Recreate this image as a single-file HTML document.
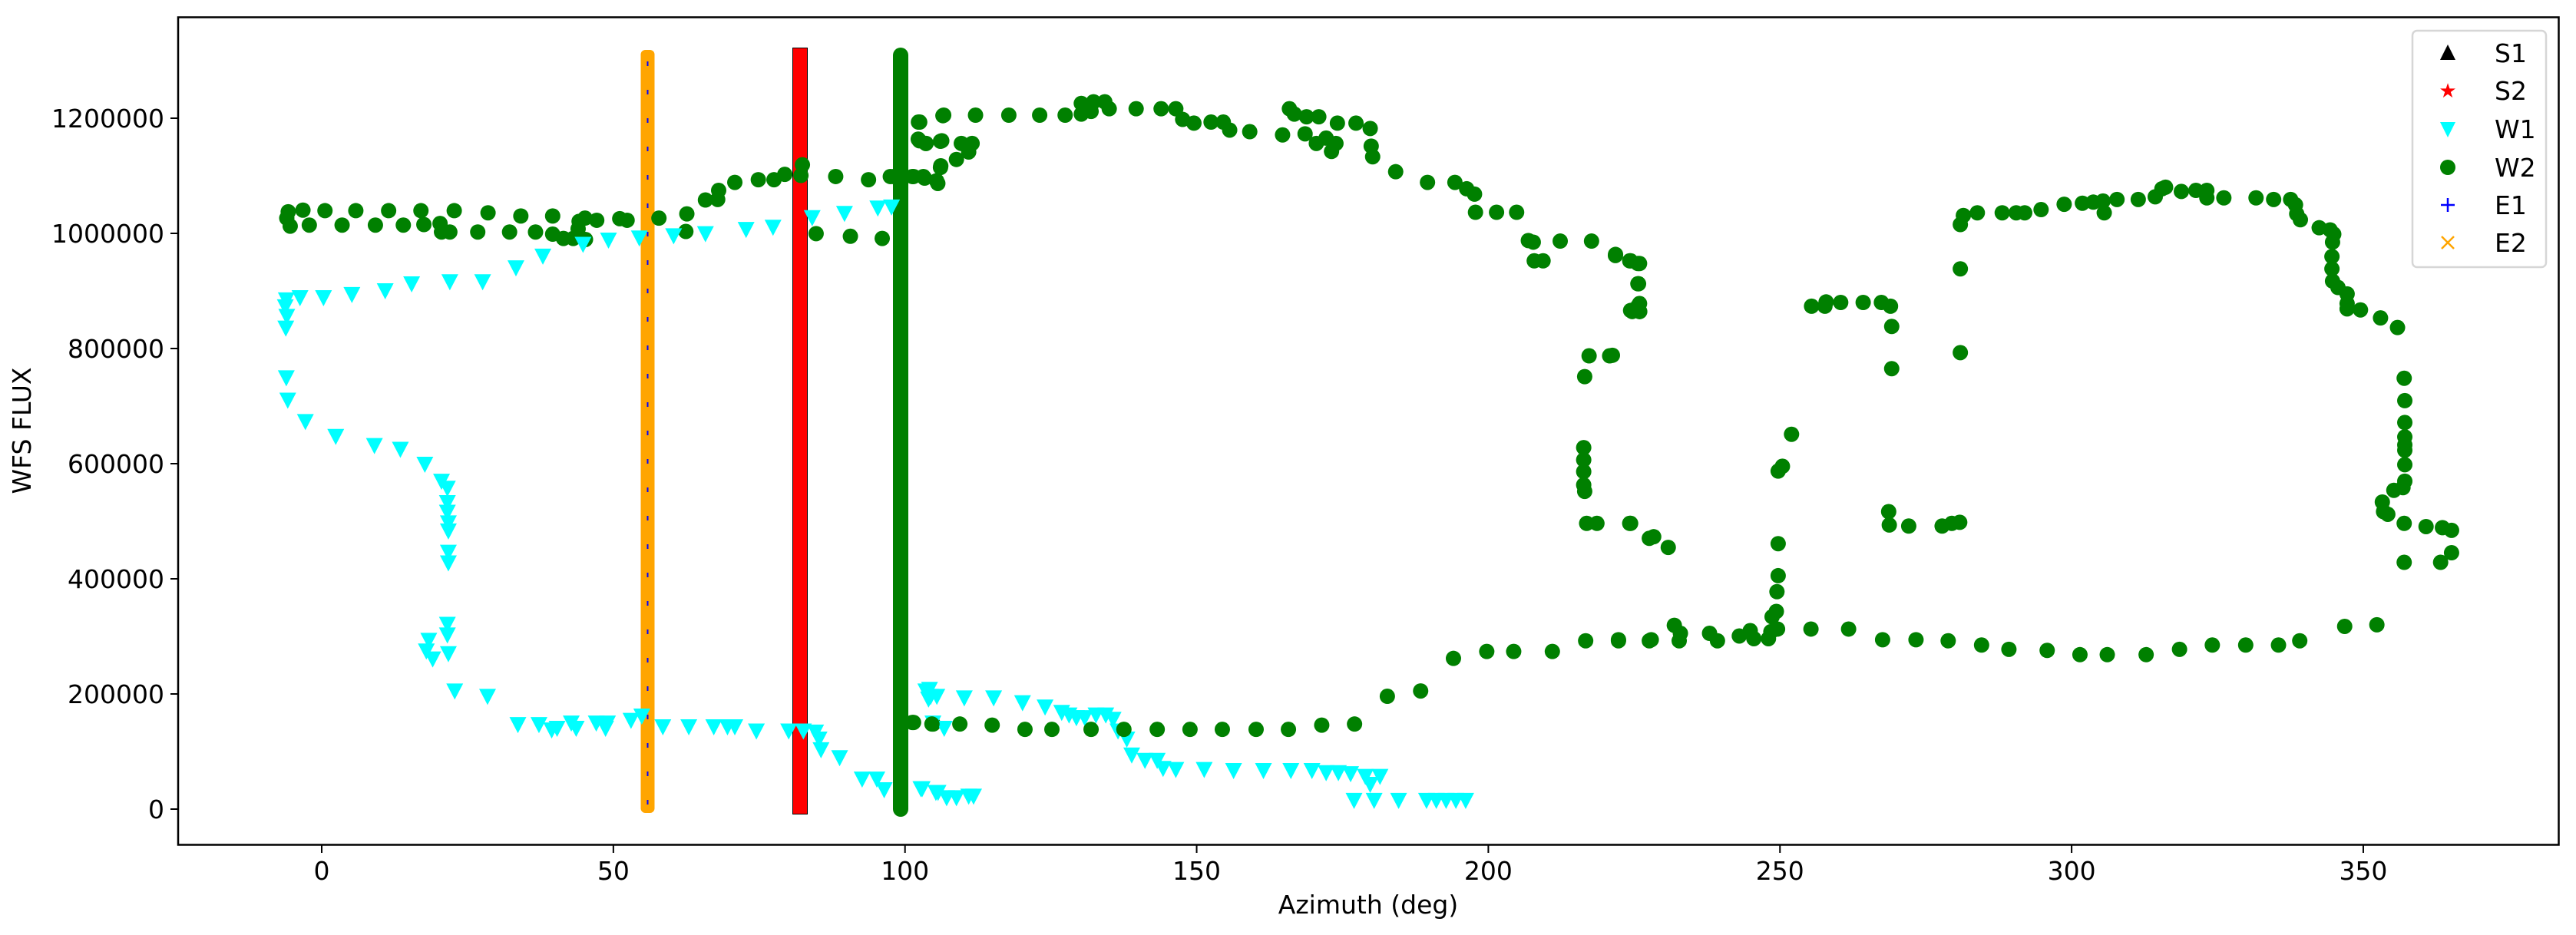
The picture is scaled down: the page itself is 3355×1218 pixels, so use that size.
<!DOCTYPE html>
<html><head><meta charset="utf-8"><style>
html,body{margin:0;padding:0;background:#fff;}
svg{display:block;font-family:"DejaVu Sans","Liberation Sans",sans-serif;}
</style></head><body>
<svg id="s" width="3355" height="1218" xmlns="http://www.w3.org/2000/svg">
<rect width="3355" height="1218" fill="#fff"/>
<g id="data"></g>
<rect x="232" y="22.5" width="3100.5" height="1078" fill="none" stroke="#000" stroke-width="2.5"/>
<g id="ticks" font-size="33" fill="#000"></g>
<text x="1782" y="1190" font-size="33" text-anchor="middle">Azimuth (deg)</text>
<text transform="translate(40,561) rotate(-90)" font-size="33" text-anchor="middle">WFS FLUX</text>
<g id="legend"></g>
</svg>
<script>
const NS="http://www.w3.org/2000/svg";
const d=document.getElementById('data');
function el(t,a,p){const e=document.createElementNS(NS,t);for(const k in a)e.setAttribute(k,a[k]);(p||d).appendChild(e);return e;}
const G='#008000',C='#00ffff';
function circ(x,y,c){el('circle',{cx:x,cy:y,r:10,fill:c||G});}
function tri(x,y){el('polygon',{points:`${x-11},${y-9} ${x+11},${y-9} ${x},${y+12}`,fill:C});}
function Z(x0,sx,pts,f){pts.forEach(p=>f(x0+p[0]/sx,20+p[1]/1.4385));}
// bars
el('rect',{x:834.5,y:65,width:18,height:994,rx:6,fill:'#ffa500'});
for(let y=80;y<1050;y+=37){el('line',{x1:843.5,y1:y,x2:843.5,y2:y+6,stroke:'#0000ff','stroke-width':2});}
el('rect',{x:1032,y:62,width:20,height:999,fill:'#000'});
el('rect',{x:1033,y:63,width:18,height:997,fill:'#ff0000'});
el('rect',{x:1163,y:62,width:20,height:1002,rx:10,fill:G});
// zoom4
Z(230,1.568,[[228,368],[225,380],[232,395],[258,365],[271,393],[303,366],[338,393],[366,366],[406,393],[433,366],[463,393],[499,366],[505,392],[538,390],[541,406],[558,406],[567,366],[615,406],[636,370],[680,406],[703,376],[733,406],[768,376],[768,410],[790,418],[810,418],[822,386],[834,380],[835,420],[858,384],[820,400],[905,381],[920,384],[985,380],[1040,405],[1042,372],[1080,346],[1105,345],[1107,328],[1140,313],[1188,308],[1220,308],[1242,298],[1275,300],[1278,280],[1306,409],[1346,302],[1376,414],[1413,308],[1441,418],[1464,302],[1505,302],[1525,302],[1552,310],[1560,285],[1515,200],[1517,235],[1530,240],[1560,236],[1565,188],[1505,1325],[1545,1328]],(x,y)=>circ(x,y));
Z(230,1.568,[[224,532],[222,545],[225,563],[223,585],[252,528],[300,528],[358,522],[426,515],[480,502],[558,498],[625,498],[693,472],[748,450],[830,428],[882,420],[945,416],[1015,412],[1080,408],[1163,400],[1218,396],[1298,378],[1364,370],[1432,360],[1460,358],[224,678],[227,720],[263,760],[325,788],[404,805],[457,812],[507,840],[541,872],[553,885],[553,912],[553,930],[555,950],[555,965],[555,1005],[555,1025],[553,1140],[553,1160],[515,1170],[510,1190],[523,1205],[555,1195],[568,1265],[635,1275],[697,1328],[740,1328],[766,1338],[777,1335],[806,1325],[816,1335],[857,1325],[876,1335],[880,1325],[928,1320],[950,1312],[993,1332],[1046,1332],[1097,1332],[1125,1332],[1140,1332],[1184,1340],[1250,1340],[1280,1340],[1305,1342],[1312,1355],[1316,1375],[1354,1390],[1400,1430],[1430,1430],[1445,1450],[1520,1448],[1555,1455],[1540,1275],[1530,1265]],tri);
// zoom5
Z(1150,1.568,[[95,1262],[93,1280],[110,1275],[166,1278],[226,1278],[285,1287],[331,1295],[365,1305],[380,1310],[395,1315],[412,1315],[435,1310],[455,1310],[470,1318],[480,1340],[498,1355],[508,1385],[535,1395],[560,1395],[572,1410],[598,1412],[656,1412],[716,1414],[777,1414],[833,1414],[876,1414],[905,1418],[930,1418],[955,1420],[985,1425],[1015,1425],[995,1440],[962,1470],[1003,1470],[1053,1470],[1110,1470],[1130,1470],[1150,1470],[1170,1470],[1190,1470],[102,1325],[125,1335],[80,1448],[108,1455],[130,1465],[150,1465],[175,1462],[185,1462]],tri);
Z(1150,1.568,[[15,302],[60,302],[85,305],[112,315],[118,282],[150,270],[175,256],[182,240],[160,240],[120,235],[88,240],[72,232],[75,200],[124,187],[189,187],[257,187],[320,187],[372,187],[405,185],[405,165],[425,180],[430,162],[453,162],[462,175],[517,175],[568,175],[598,175],[612,195],[635,202],[670,200],[695,200],[708,215],[749,218],[816,224],[830,175],[840,185],[865,190],[890,190],[862,222],[885,240],[905,230],[916,255],[925,240],[928,202],[966,202],[995,212],[997,245],[1000,265],[1047,293],[1112,313],[1168,313],[1192,325],[1208,335],[1210,369],[1253,369],[1294,369],[1318,422],[1328,425],[1330,460],[1348,460],[1383,423],[1447,423],[1496,448],[1525,460],[1545,465],[1543,503],[1545,540],[1530,555],[1545,555],[1442,638],[1484,638],[1433,677],[1431,810],[1431,833],[1431,855],[1431,880],[1433,892],[1437,952],[1458,952],[1525,952],[1565,980],[60,1325],[100,1328],[157,1328],[223,1330],[290,1338],[345,1338],[425,1338],[492,1338],[560,1338],[627,1338],[693,1338],[762,1338],[828,1338],[896,1330],[963,1328],[1030,1276],[1098,1266],[1165,1205],[1233,1192],[1288,1192],[1367,1192],[1435,1172],[1502,1172],[1565,1172]],(x,y)=>circ(x,y));
// zoom6
Z(2100,1.2645,[[5,450],[30,460],[42,465],[42,503],[42,545],[30,553],[45,555],[0,637],[30,952],[68,977],[92,997],[328,545],[350,545],[352,537],[376,538],[413,538],[443,538],[458,545],[460,583],[460,662],[573,475],[573,392],[578,375],[601,370],[642,370],[665,370],[679,370],[706,364],[744,354],[774,352],[792,350],[808,348],[810,370],[831,345],[866,345],[894,340],[905,325],[911,322],[937,330],[961,328],[979,328],[979,342],[1007,342],[1060,342],[1089,345],[1117,345],[1125,355],[1127,372],[1133,383],[1164,398],[1182,402],[1188,410],[1186,425],[1185,452],[1185,475],[1186,498],[1195,510],[1210,522],[1210,540],[1210,550],[1232,552],[1265,567],[1293,585],[1304,680],[1305,722],[1305,763],[1305,790],[1305,805],[1305,815],[1305,842],[1305,873],[1302,885],[1287,890],[1268,912],[1270,930],[1277,935],[1304,952],[1340,958],[1367,960],[1382,965],[1382,1007],[1364,1025],[1304,1025],[573,632],[295,785],[280,845],[273,854],[273,990],[273,1050],[271,1080],[270,1117],[263,1127],[272,1150],[455,930],[456,955],[488,957],[543,957],[559,952],[572,950],[10,1170],[64,1170],[102,1143],[112,1158],[110,1172],[160,1158],[173,1172],[209,1163],[227,1153],[233,1168],[257,1168],[261,1155],[327,1150],[389,1150],[445,1170],[500,1170],[553,1172],[608,1180],[653,1188],[716,1190],[770,1198],[815,1198],[879,1198],[934,1188],[988,1180],[1043,1180],[1097,1180],[1132,1172],[1206,1145],[1259,1142]],(x,y)=>circ(x,y));
// ticks
const t=document.getElementById('ticks');
for(let a=0;a<=350;a+=50){const x=419+a*7.597;el('line',{x1:x,y1:1101,x2:x,y2:1111,stroke:'#000','stroke-width':2},t);const tx=el('text',{x:x,y:1146,'text-anchor':'middle'},t);tx.textContent=a;}
for(let v=0;v<=1200000;v+=200000){const y=1054-v*0.00075;el('line',{x1:222,y1:y,x2:232,y2:y,stroke:'#000','stroke-width':2},t);const tx=el('text',{x:214,y:y+12,'text-anchor':'end'},t);tx.textContent=v;}
// legend
const L=document.getElementById('legend');
el('rect',{x:3142,y:40,width:174,height:308,rx:6,fill:'#fff','fill-opacity':0.8,stroke:'#d6d6d6','stroke-width':2.5},L);
const ys=[69,118,168,218,267,316],names=['S1','S2','W1','W2','E1','E2'],mx=3188;
el('polygon',{points:`${mx-10},${ys[0]+9} ${mx+10},${ys[0]+9} ${mx},${ys[0]-11}`,fill:'#000'},L);
el('text',{x:mx,y:ys[1]+9,'text-anchor':'middle','font-size':'26',fill:'#ff0000'},L).textContent='★';
el('polygon',{points:`${mx-10},${ys[2]-9} ${mx+10},${ys[2]-9} ${mx},${ys[2]+11}`,fill:C},L);
el('circle',{cx:mx,cy:ys[3],r:10,fill:G},L);
el('path',{d:`M${mx-9} ${ys[4]}H${mx+9}M${mx} ${ys[4]-9}V${ys[4]+9}`,stroke:'#0000ff','stroke-width':2.5},L);
el('path',{d:`M${mx-8} ${ys[5]-8}L${mx+8} ${ys[5]+8}M${mx-8} ${ys[5]+8}L${mx+8} ${ys[5]-8}`,stroke:'#ffa500','stroke-width':2.5},L);
names.forEach((n,i)=>{el('text',{x:3249,y:ys[i]+12,'font-size':'33'},L).textContent=n;});
</script>
</body></html>
